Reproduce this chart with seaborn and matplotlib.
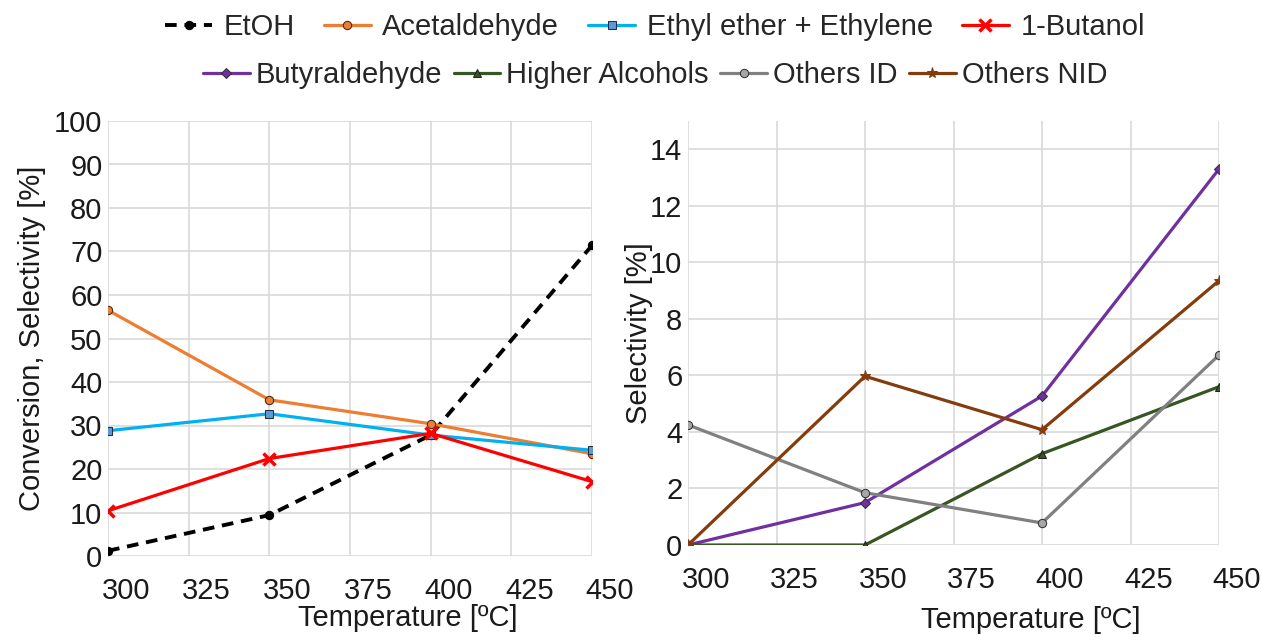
import matplotlib
matplotlib.use("Agg")
import matplotlib.pyplot as plt
import matplotlib.transforms as mtransforms
import seaborn as sns
import pandas as pd

# Reaction temperatures [ºC]
temperature = [300, 350, 400, 450]

# Left panel: conversion and main selectivities [%]
etoh = [1.2, 9.4, 27.8, 71.4]
acetaldehyde = [56.5, 35.9, 30.4, 23.5]
ethyl_ether_ethylene = [28.8, 32.7, 27.8, 24.3]
butanol = [10.4, 22.4, 28.2, 17.1]

# Right panel: minor selectivities [%]
butyraldehyde = [0.0, 1.5, 5.27, 13.3]
higher_alcohols = [0.0, 0.0, 3.23, 5.6]
others_id = [4.25, 1.85, 0.78, 6.72]
others_nid = [0.0, 5.97, 4.08, 9.35]

left_ticks = [0, 10, 20, 30, 40, 50, 60, 70, 80, 90, 100]
right_ticks = [0, 2, 4, 6, 8, 10, 12, 14]
x_ticks = [300, 325, 350, 375, 400, 425, 450]

sns.set_theme(style="whitegrid")
plt.rcParams["font.family"] = ["Liberation Sans", "DejaVu Sans"]

fig = plt.figure(figsize=(12.62, 6.35), dpi=100)
W, H = 1262, 635
ax1 = fig.add_axes([108 / W, 1 - 556 / H, (592 - 108) / W, (556 - 121) / H])
ax2 = fig.add_axes([688 / W, 1 - 545 / H, (1219 - 688) / W, (545 - 121) / H])

LW = 2.3
left_series = [
    ("EtOH", etoh, dict(color="black", linestyle=(0, (3, 2)), linewidth=2.8,
                        marker="o", markersize=6, markerfacecolor="black",
                        markeredgecolor="black")),
    ("Acetaldehyde", acetaldehyde, dict(color="#ed7d31", linewidth=LW,
                                         marker="o", markersize=6,
                                         markerfacecolor="#ed7d31",
                                         markeredgecolor="#3b2a1a")),
    ("Ethyl ether + Ethylene", ethyl_ether_ethylene,
     dict(color="#00b0f0", linewidth=LW, marker="s", markersize=6,
          markerfacecolor="#5b9bd5", markeredgecolor="#1f2f3f")),
    ("1-Butanol", butanol, dict(color="#ff0000", linewidth=LW, marker="x",
                                markersize=8, markeredgewidth=2.5,
                                markeredgecolor="#ff0000")),
]
right_series = [
    ("Butyraldehyde", butyraldehyde, dict(color="#7030a0", linewidth=LW,
                                           marker="D", markersize=5,
                                           markerfacecolor="#7030a0",
                                           markeredgecolor="#333333")),
    ("Higher Alcohols", higher_alcohols, dict(color="#375623", linewidth=LW,
                                               marker="^", markersize=6,
                                               markerfacecolor="#375623",
                                               markeredgecolor="#222222")),
    ("Others ID", others_id, dict(color="#808080", linewidth=LW, marker="o",
                                  markersize=6, markerfacecolor="#a6a6a6",
                                  markeredgecolor="#333333")),
    ("Others NID", others_nid, dict(color="#843c0c", linewidth=LW, marker="*",
                                    markersize=8, markerfacecolor="#843c0c",
                                    markeredgecolor="#843c0c")),
]


def draw(ax, series):
    for name, values, style in series:
        df = pd.DataFrame({"T": temperature, "v": values})
        sns.lineplot(data=df, x="T", y="v", ax=ax, label=name, legend=False,
                     **style)


draw(ax1, left_series)
draw(ax2, right_series)

FS = 21
for ax, ylim, yticks in ((ax1, (0, 100), left_ticks), (ax2, (0, 15), right_ticks)):
    ax.set_xlim(300, 450)
    ax.set_ylim(*ylim)
    ax.set_xticks(x_ticks)
    ax.set_yticks(yticks)
    ax.tick_params(axis="both", labelsize=FS, colors="#1a1a1a",
                   length=0, pad=4)
    for s in ax.spines.values():
        s.set_visible(False)
    ax.grid(True, color="#d9d9d9", linewidth=1.2)
    ax.set_facecolor("white")
    # x tick labels sit to the right of their gridlines
    offset = mtransforms.ScaledTranslation(18 / 100, -15 / 100, fig.dpi_scale_trans)
    for lbl in ax.get_xticklabels():
        lbl.set_transform(lbl.get_transform() + offset)

ax1.set_xlabel("Temperature [ºC]", fontsize=FS, color="#1a1a1a")
ax1.xaxis.set_label_coords(0.62, -0.11)
ax1.set_ylabel("Conversion, Selectivity [%]", fontsize=FS, color="#1a1a1a")
ax1.yaxis.set_label_coords(-0.128, 0.5)

ax2.set_xlabel("Temperature [ºC]", fontsize=FS, color="#1a1a1a")
ax2.xaxis.set_label_coords(0.645, -0.145)
ax2.set_ylabel("Selectivity [%]", fontsize=FS, color="#1a1a1a")
ax2.yaxis.set_label_coords(-0.066, 0.5)

# Two-row legend across the top
h1, l1 = ax1.get_legend_handles_labels()
h2, l2 = ax2.get_legend_handles_labels()
common = dict(frameon=False, fontsize=FS, handlelength=1.6, borderaxespad=0)
fig.legend(h1, l1, loc="center", bbox_to_anchor=(655 / W, 1 - 27 / H), ncol=4,
           columnspacing=1.0, handletextpad=0.4, **common)
fig.legend(h2, l2, loc="center", bbox_to_anchor=(655 / W, 1 - 75 / H), ncol=4,
           columnspacing=0.4, handletextpad=0.2, **common)

fig.savefig("out.png", dpi=100, facecolor="white")
